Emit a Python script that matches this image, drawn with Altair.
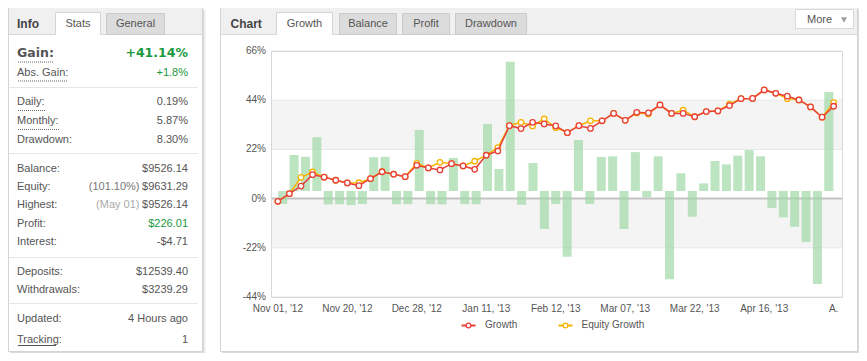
import altair as alt
import pandas as pd

OFF = 8  # page margin

# ---------------- data ----------------
growth = [-1.2, 2.2, 5.6, 10.7, 9.6, 8.2, 7.0, 5.8, 8.9, 12.0, 10.9, 9.8, 14.9, 13.7,
          12.8, 15.6, 14.6, 13.1, 19.4, 21.3, 32.6, 31.3, 34.1, 33.4, 32.5, 29.5, 32.6,
          31.4, 34.8, 38.1, 35.0, 38.6, 38.3, 41.9, 38.1, 38.1, 36.6, 38.9, 39.2, 41.6,
          44.7, 44.8, 48.6, 47.1, 45.8, 44.1, 41.0, 36.4, 41.3]
equity = [-1.2, 2.2, 9.5, 11.9, 9.6, 8.2, 7.0, 7.1, 8.9, 12.0, 10.9, 9.8, 15.8, 13.7,
          16.2, 15.6, 14.6, 16.7, 19.4, 22.8, 32.6, 34.1, 32.5, 35.6, 31.7, 29.5, 32.6,
          34.8, 34.8, 38.1, 35.0, 38.3, 37.8, 41.9, 38.1, 39.5, 36.6, 38.9, 39.2, 42.2,
          44.7, 44.8, 48.6, 47.1, 44.7, 44.1, 41.0, 36.4, 42.9]
period = [-5.8, 16.1, 15.3, 24.1, -6.0, -5.9, -6.3, -5.8, 15.1, 15.3, -5.9, -5.9, 27.3,
          -5.9, -6.0, 14.8, -5.9, -5.9, 30.0, 9.8, 57.8, -6.1, 12.5, -17.0, -5.8, -29.4,
          22.8, -5.8, 15.2, 15.5, -17.0, 17.4, -2.8, 15.5, -39.5, 7.9, -11.5, 3.4, 13.4,
          11.9, 15.8, 18.3, 15.5, -7.6, -11.8, -16.0, -22.8, -41.6, 44.3]
x_tick_index = [0, 6, 12, 18, 24, 30, 36, 42, 48]
x_tick_labels = ["Nov 01, '12", "Nov 20, '12", "Dec 28, '12", "Jan 11, '13", "Feb 12, '13",
                 "Mar 07, '13", "Mar 22, '13", "Apr 16, '13", "A."]
y_ticks = [-44, -22, 0, 22, 44, 66]
series_names = ["Growth", "Equity Growth"]

info_labels = ["Gain:", "Abs. Gain:", "Daily:", "Monthly:", "Drawdown:", "Balance:", "Equity:",
               "Highest:", "Profit:", "Interest:", "Deposits:", "Withdrawals:", "Updated:", "Tracking:"]
info_values = ["+41.14%", "+1.8%", "0.19%", "5.87%", "8.30%", "$9526.14", "$9631.29", "$9526.14",
               "$226.01", "-$4.71", "$12539.40", "$3239.29", "4 Hours ago", "1"]
info_notes = ["", "", "", "", "", "", "(101.10%)", "(May 01)", "", "", "", "", "", ""]
info_tabs = ["Stats", "General"]
chart_tabs = ["Growth", "Balance", "Profit", "Drawdown"]

# ---------------- style / layout ----------------
FONT = "Liberation Sans"
BOLDNUM = "DejaVu Sans"
TXT = "#555555"
GREEN = "#1a9a3e"
RED = "#e8403a"
YEL = "#f6b400"
BAR = "#9fd8a6"

W, H = 851, 345

ROW_Y = [53.3, 72.8, 101.7, 121.0, 140.0, 169.3, 187.3, 205.3, 224.0, 242.0, 271.7, 290.0, 319.0, 340.0]
ROW_SIZE = [12.5, 11, 11, 11, 11, 11, 11, 11, 11, 11, 11, 11, 11, 11]
ROW_COLOR = [GREEN, GREEN, TXT, TXT, TXT, TXT, TXT, TXT, GREEN, TXT, TXT, TXT, TXT, TXT]
NOTE_COLOR = {"(101.10%)": "#777777", "(May 01)": "#aaaaaa"}


def P(v):
    return v - OFF


def frame(rows, cols):
    df = pd.DataFrame(rows, columns=cols)
    for c in ("x", "x2", "y", "y2"):
        if c in df:
            df[c] = df[c] - OFF
    return df


def rects(rows):
    df = frame(rows, ["x", "x2", "y", "y2", "fill", "stroke"])
    return alt.Chart(df).mark_rect(strokeWidth=1).encode(
        x=alt.X("x:Q", scale=None, axis=None), x2="x2:Q",
        y=alt.Y("y:Q", scale=None, axis=None), y2="y2:Q",
        fill=alt.Fill("fill:N", scale=None, legend=None),
        stroke=alt.Stroke("stroke:N", scale=None, legend=None))


def rules(rows, color, width=1, dash=None):
    df = frame(rows, ["x", "x2", "y"])
    mk = dict(color=color, strokeWidth=width)
    if dash:
        mk["strokeDash"] = dash
    return alt.Chart(df).mark_rule(**mk).encode(
        x=alt.X("x:Q", scale=None, axis=None), x2="x2:Q",
        y=alt.Y("y:Q", scale=None, axis=None))


def texts(rows, align="left", weight="normal", font=FONT):
    df = frame(rows, ["x", "y", "t", "c", "s"])
    return alt.Chart(df).mark_text(align=align, baseline="middle", font=font, fontWeight=weight).encode(
        x=alt.X("x:Q", scale=None, axis=None), y=alt.Y("y:Q", scale=None, axis=None),
        text="t:N", color=alt.Color("c:N", scale=None, legend=None),
        size=alt.Size("s:Q", scale=None, legend=None))


layers = []

# ---- panels ----
panels = [(8.5, 202.5, 7.5, 351.5), (220.5, 857.5, 7.5, 351.5)]
shadow_rows, panel_rows, head_rows = [], [], []
for (a, b, c, d) in panels:
    shadow_rows.append((a + 3, b + 3, c + 3, d + 3.5, "#ededed", "transparent"))
    shadow_rows.append((a + 1.5, b + 1.5, c + 1.5, d + 1.5, "#dadada", "transparent"))
    panel_rows.append((a, b, c, d, "#ffffff", "#d4d4d4"))
    head_rows.append((a + 0.5, b - 0.5, c + 0.5, 34.5, "#f0f0f0", "transparent"))
layers += [rects(shadow_rows), rects(panel_rows), rects(head_rows)]
layers.append(rules([(p[0], p[1], 34.5) for p in panels], "#d8d8d8"))

# tabs
tab_boxes_left = [(55.5, 100.5), (106.5, 164.5)]
tab_boxes_right = [(276.5, 332.5), (339.5, 396.5), (402.5, 449.5), (455.5, 526.5)]
tab_rows = []
for boxes in (tab_boxes_left, tab_boxes_right):
    for k, (a, b) in enumerate(boxes):
        tab_rows.append((a, b, 12.5 if k == 0 else 13.5, 34.5, "#ffffff" if k == 0 else "#dcdcdc",
                         "#d4d4d4" if k == 0 else "#cacaca"))
tab_rows.append((795.5, 853.5, 9.5, 28.5, "#ffffff", "#d8d8d8"))
layers.append(rects(tab_rows))
layers.append(rules([(tab_boxes_left[0][0] + 0.5, tab_boxes_left[0][1] - 0.5, 34.5),
                     (tab_boxes_right[0][0] + 0.5, tab_boxes_right[0][1] - 0.5, 34.5)], "#ffffff", 1.5))

tab_text = []
for name, (a, b) in zip(info_tabs, tab_boxes_left):
    tab_text.append(((a + b) / 2, 24, name, TXT, 11))
for name, (a, b) in zip(chart_tabs, tab_boxes_right):
    tab_text.append(((a + b) / 2, 24, name, TXT, 11))
layers.append(texts(tab_text, align="center"))
layers.append(texts([(17, 23.5, "Info", "#444444", 12), (230.5, 23.5, "Chart", "#444444", 12)],
                    weight="bold"))
layers.append(texts([(807, 19.5, "More", TXT, 11)]))
layers.append(alt.Chart(pd.DataFrame({"x": [P(844)], "y": [P(20)]})).mark_point(
    shape="triangle-down", filled=True, size=38, color="#a0a0a0", opacity=1).encode(
    x=alt.X("x:Q", scale=None, axis=None), y=alt.Y("y:Q", scale=None, axis=None)))

# ---- info panel ----
layers.append(rules([(8.5, 198, y) for y in (87.5, 153.5, 257.5, 303.5)], "#e6e6e6"))
layers.append(rules([(18, 53, 62), (18, 68, 81), (18, 45, 110.5), (18, 59, 129.5)], "#666666", 1, [1, 1]))
layers.append(rules([(18, 56, 345.5)], "#555555", 1))

lab_rows = [(17, ROW_Y[k], info_labels[k], TXT, 11) for k in range(1, len(info_labels))]
val_rows = [(188, ROW_Y[k], info_values[k], ROW_COLOR[k], ROW_SIZE[k]) for k in range(1, len(info_values))]
note_rows = [(139.5, ROW_Y[k], info_notes[k], NOTE_COLOR[info_notes[k]], 11)
             for k in range(len(info_notes)) if info_notes[k]]
layers.append(texts(lab_rows))
layers.append(texts(val_rows, align="right"))
layers.append(texts(note_rows, align="right"))
layers.append(texts([(17, ROW_Y[0], info_labels[0], TXT, 12.5)], weight="bold", font=BOLDNUM))
layers.append(texts([(188, ROW_Y[0], info_values[0], GREEN, 12.5)], align="right", weight="bold", font=BOLDNUM))

# ---- growth chart ----
PL, PR, PT, PB = 271, 842, 51, 297
XS = alt.Scale(domain=[-0.59, 48.72], range=[P(PL), P(PR)], nice=False, zero=False)
YS = alt.Scale(domain=[-44, 66], range=[P(PB), P(PT)], nice=False)
BS = alt.Scale(domain=[-47.4, 62.6], range=[P(PB), P(PT)], nice=False)

df = pd.DataFrame({"i": list(range(len(growth))), "growth": growth, "equity": equity, "period": period})
X = alt.X("i:Q", scale=XS, axis=None)
xl, xr = alt.value(P(PL)), alt.value(P(PR))

bands = alt.Chart(pd.DataFrame({"lo": [y_ticks[3], y_ticks[1]], "hi": [y_ticks[4], y_ticks[2]]})).mark_rect(
    color="#f4f4f4").encode(x=xl, x2=xr, y=alt.Y("hi:Q", scale=YS, axis=None), y2="lo:Q")
grid = alt.Chart(pd.DataFrame({"v": y_ticks})).mark_rule(color="#e6e6e6").encode(
    x=xl, x2=xr, y=alt.Y("v:Q", scale=YS, axis=None))
zero = alt.Chart(pd.DataFrame({"v": [0]})).mark_rule(color="#c4c4c4", strokeWidth=2).encode(
    x=xl, x2=xr, y=alt.Y("v:Q", scale=YS, axis=None))
bars = alt.Chart(df).mark_bar(size=9, color=BAR, opacity=0.7, orient="vertical").encode(
    x=X, y=alt.Y("period:Q", scale=BS, axis=None))
border = alt.Chart(pd.DataFrame({"a": [0]})).mark_rect(fillOpacity=0, stroke="#d9d9d9", strokeWidth=1).encode(
    x=alt.value(P(PL) + 0.5), x2=alt.value(P(PR) + 0.5), y=alt.value(P(PT) + 0.5), y2=alt.value(P(PB) + 0.5))

eq_line = alt.Chart(df).mark_line(color=YEL, strokeWidth=1.5).encode(x=X, y=alt.Y("equity:Q", scale=YS, axis=None))
eq_pts = alt.Chart(df).mark_point(shape="circle", filled=True, fill="white", stroke=YEL, strokeWidth=1.3,
                                  size=30, opacity=1).encode(x=X, y=alt.Y("equity:Q", scale=YS, axis=None))
gr_line = alt.Chart(df).mark_line(color=RED, strokeWidth=1.5).encode(x=X, y=alt.Y("growth:Q", scale=YS, axis=None))
gr_pts = alt.Chart(df).mark_point(shape="circle", filled=True, fill="white", stroke=RED, strokeWidth=1.3,
                                  size=30, opacity=1).encode(x=X, y=alt.Y("growth:Q", scale=YS, axis=None))

ylabels = alt.Chart(pd.DataFrame({"v": y_ticks, "lab": [f"{v}%" for v in y_ticks]})).mark_text(
    align="right", baseline="middle", font=FONT, fontSize=10, color=TXT).encode(
    x=alt.value(P(266)), y=alt.Y("v:Q", scale=YS, axis=None), text="lab:N")
xlabels = alt.Chart(pd.DataFrame({"i": x_tick_index, "lab": x_tick_labels})).mark_text(
    align="center", baseline="middle", font=FONT, fontSize=10, color=TXT).encode(
    x=X, y=alt.value(P(309)), text="lab:N")

layers += [bands, grid, zero, bars, border, eq_line, eq_pts, gr_line, gr_pts, ylabels, xlabels]

# legend
LEG = [(468.5, RED), (565.5, YEL)]
layers.append(rules([(c - 7, c + 7, 325.5) for c, _ in LEG[:1]], RED, 2))
layers.append(rules([(c - 7, c + 7, 325.5) for c, _ in LEG[1:]], YEL, 2))
for c, col in LEG:
    layers.append(alt.Chart(pd.DataFrame({"x": [P(c)], "y": [P(325.5)]})).mark_point(
        shape="circle", filled=True, fill="white", stroke=col, strokeWidth=1.3, size=22, opacity=1).encode(
        x=alt.X("x:Q", scale=None, axis=None), y=alt.Y("y:Q", scale=None, axis=None)))
layers.append(texts([(485, 325, series_names[0], TXT, 10), (581.5, 325, series_names[1], TXT, 10)]))

chart = alt.layer(*layers).resolve_scale(x="independent", y="independent").properties(
    width=W, height=H, autosize=alt.AutoSizeParams(type="none"), padding=0,
    background="white").configure_view(strokeWidth=0)

chart.save("out.html", embed_options={"renderer": "svg", "actions": False})
